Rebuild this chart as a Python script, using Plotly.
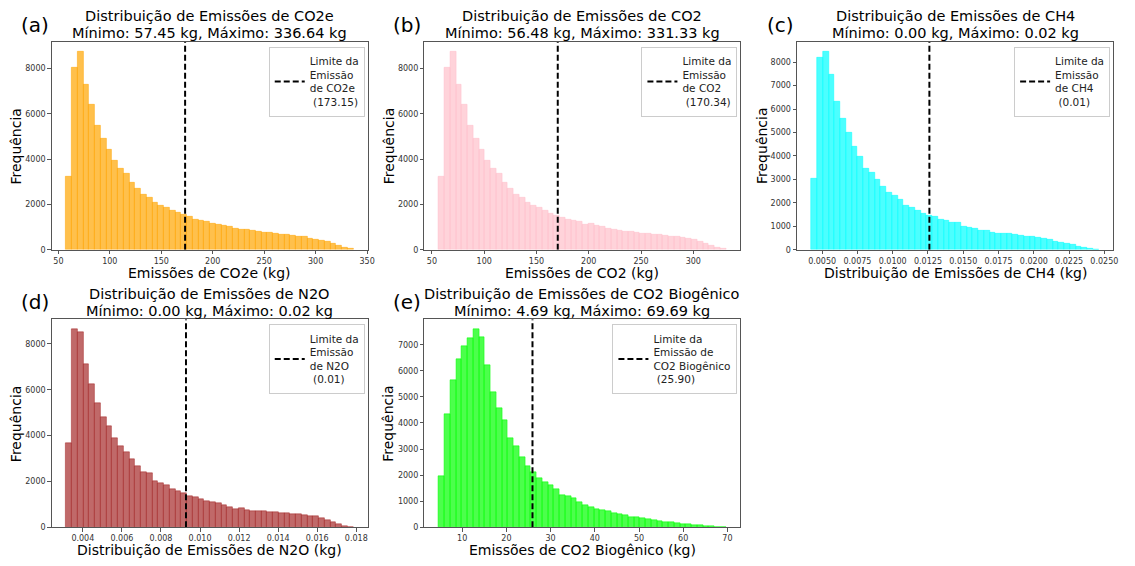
import plotly.graph_objects as go

# ---------------- data ----------------
co2e_counts = [3250, 8050, 8750, 7300, 6400, 5500, 4900, 4400, 3950, 3600,
               3350, 2950, 2700, 2450, 2300, 2100, 1950, 1850, 1750, 1650,
               1550, 1450, 1350, 1300, 1250, 1150, 1100, 1050, 1000, 950,
               900, 870, 830, 800, 750, 740, 720, 690, 650, 620,
               590, 560, 510, 470, 420, 340, 260, 180, 100, 40]
co2_counts = [3250, 8050, 8750, 7300, 6400, 5500, 4900, 4400, 3950, 3600,
              3350, 2950, 2700, 2450, 2300, 2100, 1950, 1850, 1750, 1600,
              1500, 1400, 1350, 1300, 1250, 1100, 1150, 1050, 1000, 950,
              900, 850, 800, 780, 750, 730, 720, 680, 650, 620,
              600, 570, 520, 480, 430, 350, 270, 200, 110, 40]
ch4_counts = [3050, 8200, 8450, 7450, 6300, 5600, 5000, 4400, 3950, 3450,
              3300, 3000, 2700, 2450, 2300, 2150, 1900, 1800, 1650, 1550,
              1450, 1400, 1300, 1250, 1150, 1150, 1000, 950, 900, 800,
              800, 750, 700, 700, 680, 650, 600, 580, 560, 520,
              480, 420, 360, 300, 250, 200, 130, 80, 40, 10]
n2o_counts = [3660, 8650, 8510, 7100, 6240, 5430, 4790, 4410, 3880, 3520,
              3290, 2970, 2690, 2390, 2350, 2010, 1920, 1820, 1660, 1590,
              1490, 1350, 1320, 1230, 1130, 1100, 1050, 950, 900, 800,
              850, 750, 720, 700, 700, 680, 650, 620, 600, 580,
              560, 540, 500, 470, 420, 330, 230, 140, 70, 25]
bio_counts = [1950, 4350, 5650, 6450, 6950, 7250, 7600, 7300, 6200, 5200,
              4550, 4100, 3400, 3100, 2700, 2350, 2100, 1900, 1750, 1600,
              1450, 1250, 1200, 1100, 950, 850, 780, 700, 650, 600,
              550, 500, 450, 400, 370, 340, 300, 270, 240, 210,
              180, 150, 130, 110, 90, 70, 50, 30, 15, 5]

data_min = {"co2e": 57.45, "co2": 56.48, "ch4": 0.00424, "n2o": 0.00314, "bio": 4.69}
data_max = {"co2e": 336.64, "co2": 331.33, "ch4": 0.0246, "n2o": 0.01785, "bio": 69.69}
limits = {"co2e": 173.15, "co2": 170.34, "ch4": 0.0126, "n2o": 0.00928, "bio": 25.90}
min_labels = {"co2e": "57.45", "co2": "56.48", "ch4": "0.00", "n2o": "0.00", "bio": "4.69"}
max_labels = {"co2e": "336.64", "co2": "331.33", "ch4": "0.02", "n2o": "0.02", "bio": "69.69"}
gas_names = {"co2e": "CO2e", "co2": "CO2", "ch4": "CH4", "n2o": "N2O", "bio": "CO2 Biogênico"}
x_titles = {"co2e": "Emissões de CO2e (kg)", "co2": "Emissões de CO2 (kg)",
            "ch4": "Distribuição de Emissões de CH4 (kg)",
            "n2o": "Distribuição de Emissões de N2O (kg)",
            "bio": "Emissões de CO2 Biogênico (kg)"}
legend_texts = {"co2e": "Limite da<br>Emissão<br>de CO2e<br>\u00a0(173.15)",
                "co2": "Limite da<br>Emissão<br>de CO2<br>\u00a0(170.34)",
                "ch4": "Limite da<br>Emissão<br>de CH4<br>\u00a0(0.01)",
                "n2o": "Limite da<br>Emissão<br>de N2O<br>\u00a0(0.01)",
                "bio": "Limite da<br>Emissão de<br>CO2 Biogênico<br>\u00a0(25.90)"}
panel_letters = ["(a)", "(b)", "(c)", "(d)", "(e)"]
x_ticks = {"co2e": [50, 100, 150, 200, 250, 300, 350],
           "co2": [50, 100, 150, 200, 250, 300],
           "ch4": [0.0050, 0.0075, 0.0100, 0.0125, 0.0150, 0.0175, 0.0200, 0.0225, 0.0250],
           "n2o": [0.004, 0.006, 0.008, 0.010, 0.012, 0.014, 0.016, 0.018],
           "bio": [10, 20, 30, 40, 50, 60, 70]}
x_tickformat = {"co2e": "d", "co2": "d", "ch4": ".4f", "n2o": ".3f", "bio": "d"}
y_ticks = {"co2e": [0, 2000, 4000, 6000, 8000], "co2": [0, 2000, 4000, 6000, 8000],
           "ch4": [0, 1000, 2000, 3000, 4000, 5000, 6000, 7000, 8000],
           "n2o": [0, 2000, 4000, 6000, 8000],
           "bio": [0, 1000, 2000, 3000, 4000, 5000, 6000, 7000]}
counts = {"co2e": co2e_counts, "co2": co2_counts, "ch4": ch4_counts, "n2o": n2o_counts, "bio": bio_counts}
colors = {"co2e": (255, 165, 0), "co2": (255, 192, 203), "ch4": (0, 255, 255),
          "n2o": (165, 42, 42), "bio": (0, 255, 0)}

# ---------------- layout (pixel boxes of each axes) ----------------
W, H = 1135, 566
keys = ["co2e", "co2", "ch4", "n2o", "bio"]
boxes = [(52, 370, 42, 252), (427, 745, 42, 252), (802, 1120, 42, 252),
         (52, 370, 322, 532), (427, 745, 322, 532)]
FONT = "DejaVu Sans"

fig = go.Figure()
annotations = []
layout = {}


def ann(x, y, text, size, **kw):
    d = dict(x=x / W, y=1 - y / H, xref="paper", yref="paper", xanchor="center",
             yanchor="middle", text=text, showarrow=False,
             font=dict(size=size, family=FONT, color="black"))
    d.update(kw)
    annotations.append(d)


for i, k in enumerate(keys):
    n = i + 1
    sfx = "" if n == 1 else str(n)
    l, r, t, b = boxes[i]
    c = counts[k]
    vmin, vmax = data_min[k], data_max[k]
    nb = len(c)
    w = (vmax - vmin) / nb
    centers = [vmin + (j + 0.5) * w for j in range(nb)]
    span = vmax - vmin
    xr = [vmin - 0.05 * span, vmax + 0.05 * span]
    ymax = max(c) * 1.05
    rr, gg, bb = colors[k]
    fig.add_trace(go.Bar(
        x=centers, y=c, width=[w] * nb,
        marker=dict(color=f"rgba({rr},{gg},{bb},0.7)",
                    line=dict(color=f"rgba({rr},{gg},{bb},0.85)", width=0.6)),
        xaxis="x" + sfx, yaxis="y" + sfx, showlegend=False, hoverinfo="x+y"))
    lg = "legend" + sfx
    fig.add_trace(go.Scatter(
        x=[limits[k], limits[k]], y=[0, ymax], mode="lines",
        line=dict(color="black", width=2, dash="6px,3px"),
        name=legend_texts[k], xaxis="x" + sfx, yaxis="y" + sfx,
        legend=lg, showlegend=True))
    layout["xaxis" + sfx] = dict(
        domain=[l / W, r / W], anchor="y" + sfx, range=xr,
        tickvals=x_ticks[k], tickformat=x_tickformat[k],
        showline=True, mirror=True, linecolor="#555", linewidth=1,
        ticks="outside", ticklen=3.5, tickcolor="#555", showgrid=False, zeroline=False,
        tickfont=dict(size=8, color="#333", family=FONT))
    layout["yaxis" + sfx] = dict(
        domain=[1 - b / H, 1 - t / H], anchor="x" + sfx, range=[0, ymax],
        tickvals=y_ticks[k], tickformat="d",
        showline=True, mirror=True, linecolor="#555", linewidth=1,
        ticks="outside", ticklen=3.5, tickcolor="#555", showgrid=False, zeroline=False,
        tickfont=dict(size=8, color="#333", family=FONT))
    layout[lg] = dict(
        x=(r - 3) / W, y=1 - (t + 5) / H, xanchor="right", yanchor="top",
        bgcolor="white", bordercolor="#cccccc", borderwidth=1,
        font=dict(size=10.5, family=FONT, color="#222"), itemwidth=30,
        tracegroupgap=0)
    cx = (l + r) / 2
    ann(cx, t - 25.5, f"Distribuição de Emissões de {gas_names[k]}", 14.5)
    ann(cx, t - 8.5, f"Mínimo: {min_labels[k]} kg, Máximo: {max_labels[k]} kg", 14.5)
    ann(cx, b + 23, x_titles[k], 14)
    ann(l - 36, (t + b) / 2, "Frequência", 14, textangle=-90)
    ann(l - 17, t - 17, panel_letters[i], 20)

fig.update_layout(**layout)
fig.update_layout(
    width=W, height=H, margin=dict(l=0, r=0, t=0, b=0),
    paper_bgcolor="white", plot_bgcolor="white", bargap=0,
    annotations=annotations, font=dict(family=FONT))

fig.write_html("out.html", config={"displayModeBar": False},
               post_script="document.body.style.margin='0';document.body.style.overflow='hidden';")
